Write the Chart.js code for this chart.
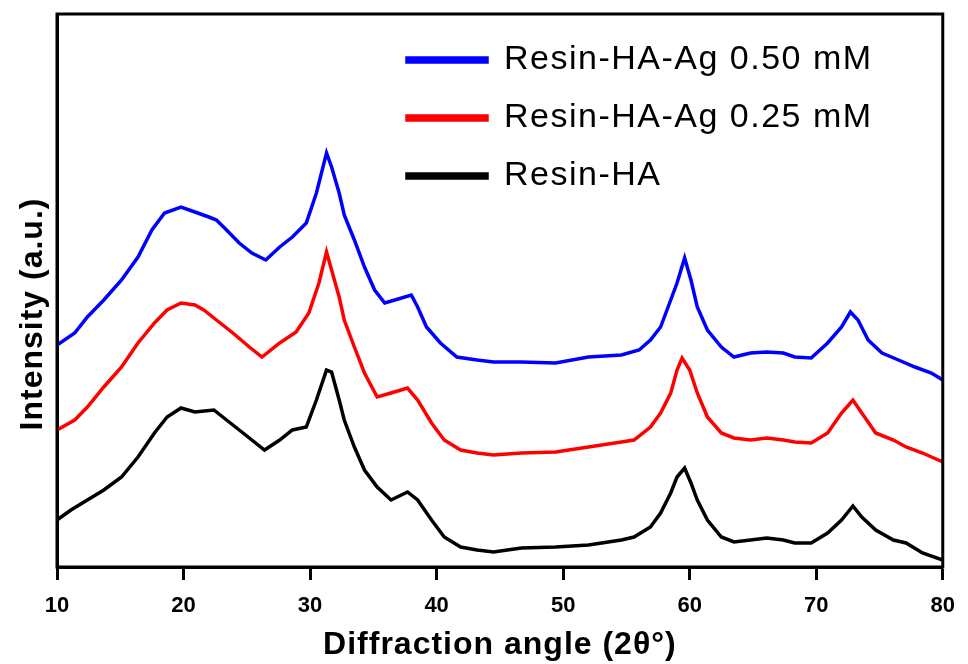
<!DOCTYPE html>
<html><head><meta charset="utf-8">
<script src="https://cdn.jsdelivr.net/npm/chart.js@4.4.1/dist/chart.umd.min.js"></script>
<style>html,body{margin:0;padding:0;background:#fff}</style>
</head><body>
<canvas id="c" width="968" height="664"></canvas>
<script>
// ---- data ----
const seriesLabels = ['Resin-HA-Ag 0.50 mM', 'Resin-HA-Ag 0.25 mM', 'Resin-HA'];
const xTickValues = [10, 20, 30, 40, 50, 60, 70, 80];
const xTitle = 'Diffraction angle (2θ°)';
const yTitle = 'Intensity (a.u.)';

const ag050Angle = [10,11.4,12.4,13.7,15.1,16.4,17.5,18.5,19.8,20.9,22.0,22.6,23.4,24.4,25.4,26.5,27.6,28.6,29.7,30.5,31.3,31.7,32.3,32.7,33.5,34.3,35.1,35.9,36.7,38.0,38.5,39.2,40.3,41.6,43.2,44.5,46.7,49.4,52.0,54.6,56.0,56.9,57.7,58.5,59.0,59.6,60.1,60.6,61.4,62.5,63.5,64.8,66.1,67.4,68.3,69.6,70.9,72.0,72.7,73.3,74.1,75.2,76.5,77.8,79.1,80.0];
const ag050Intensity = [222,234,250,267,287,310,337,354,360,355,350,347,337,324,314,307,320,330,344,374,414,400,374,352,327,300,277,264,267,272,260,240,224,210,207,205,205,204,210,212,217,227,240,267,284,309,287,260,237,220,210,214,215,214,210,209,224,240,255,247,227,214,207,200,194,187];

const ag025Angle = [10,11.4,12.4,13.7,15.1,16.4,17.7,18.7,19.8,20.9,21.6,22.6,23.9,25.2,26.2,27.6,28.9,29.9,30.7,31.3,31.7,32.3,32.7,33.5,34.3,35.3,36.4,37.7,38.5,39.6,40.6,41.9,43.2,44.5,46.7,49.4,52.0,54.6,55.6,56.9,57.7,58.5,59.0,59.4,60.0,60.6,61.4,62.5,63.5,64.8,66.1,67.4,68.3,69.6,70.9,72.0,72.9,73.6,74.7,76.1,77.1,78.4,80.0];
const ag025Intensity = [137,147,160,180,200,224,244,257,264,262,257,247,234,220,210,224,235,254,284,315,297,270,247,220,194,170,174,179,167,144,127,117,114,112,114,115,120,125,127,140,154,174,197,209,197,174,150,134,129,127,129,127,125,124,134,154,167,154,134,127,120,114,105];

const haAngle = [10,11.1,12.4,13.7,15.1,16.4,17.7,18.7,19.8,20.9,22.4,23.4,24.4,25.4,26.4,27.6,28.6,29.7,30.5,31.3,31.7,32.3,32.7,33.5,34.3,35.3,36.4,37.7,38.5,39.6,40.6,41.9,43.2,44.5,46.7,49.4,52.0,54.6,55.6,56.9,57.7,58.5,59.0,59.6,60.1,60.6,61.4,62.5,63.5,64.8,66.1,67.4,68.3,69.6,70.9,72.0,72.9,73.6,74.7,76.1,77.1,78.4,80.0];
const haIntensity = [47,57,67,77,90,110,134,150,159,155,157,147,137,127,117,127,137,140,167,197,195,167,147,120,97,80,67,75,67,47,30,20,17,15,19,20,22,27,30,40,54,74,90,99,84,67,47,30,25,27,29,27,24,24,34,47,61,50,37,27,24,14,7];

const seriesColors = ['#0000ff', '#ff0000', '#000000'];

// ---- build ----
const toPts = (xs, ys) => xs.map((x, i) => ({x: x, y: ys[i]}));
const FONT = "'Liberation Sans', Arial, Helvetica, sans-serif";

const datasets = [
  {label: seriesLabels[0], data: toPts(ag050Angle, ag050Intensity), borderColor: seriesColors[0], backgroundColor: seriesColors[0]},
  {label: seriesLabels[1], data: toPts(ag025Angle, ag025Intensity), borderColor: seriesColors[1], backgroundColor: seriesColors[1]},
  {label: seriesLabels[2], data: toPts(haAngle, haIntensity), borderColor: seriesColors[2], backgroundColor: seriesColors[2]}
].map(d => Object.assign(d, {borderWidth: 3.5, pointRadius: 0, tension: 0, fill: false}));

function withSpacing(obj, method, spacing) {
  if (!obj || obj['_wrapped_' + method]) return;
  const orig = obj[method];
  obj[method] = function () {
    const ctx = this.ctx;
    ctx.save();
    ctx.letterSpacing = spacing;
    const r = orig.apply(this, arguments);
    ctx.restore();
    return r;
  };
  obj['_wrapped_' + method] = true;
}

const framePlugin = {
  id: 'frame',
  afterLayout(chart) {
    const lg = chart.legend;
    if (lg) {
      lg.left = 383; lg.top = 19; lg.right = 945; lg.bottom = 560;
      lg.width = lg.right - lg.left; lg.height = lg.bottom - lg.top;
      withSpacing(lg, 'draw', '1.5px');
    }
    withSpacing(chart.scales.x, 'drawTitle', '1px');
  },
  afterDatasetsDraw(chart) {
    const {ctx, chartArea: a} = chart;
    ctx.save();
    ctx.strokeStyle = '#000';
    ctx.lineWidth = 3;
    ctx.strokeRect(a.left, a.top, a.right - a.left, a.bottom - a.top);
    ctx.restore();
  },
  afterDraw(chart) {
    const ctx = chart.ctx;
    ctx.save();
    ctx.translate(33, 314);
    ctx.rotate(-Math.PI / 2);
    ctx.font = 'bold 32px ' + FONT;
    ctx.letterSpacing = '1px';
    ctx.fillStyle = '#000';
    ctx.textAlign = 'center';
    ctx.textBaseline = 'middle';
    ctx.fillText(yTitle, 0, 0);
    ctx.restore();
  }
};

new Chart(document.getElementById('c'), {
  type: 'line',
  data: {datasets},
  options: {
    responsive: false,
    animation: false,
    devicePixelRatio: 1,
    layout: {padding: {top: 14, right: 23, left: 0, bottom: 0}},
    plugins: {
      legend: {
        position: 'chartArea',
        align: 'start',
        labels: {
          boxWidth: 80, boxHeight: 4, padding: 24,
          color: '#000',
          font: {family: FONT, size: 34}
        }
      },
      tooltip: {enabled: false}
    },
    scales: {
      x: {
        type: 'linear', min: 10, max: 80,
        afterFit(s) { s.height = 97; },
        afterBuildTicks(s) { s.ticks = xTickValues.map(v => ({value: v})); },
        ticks: {color: '#000', padding: 13, font: {family: FONT, size: 22, weight: 'bold'}},
        grid: {display: true, drawOnChartArea: false, drawTicks: true, tickLength: 13, tickWidth: 3, tickColor: '#000', color: '#000'},
        border: {display: true, color: '#000', width: 3},
        title: {display: true, text: xTitle, color: '#000', padding: {top: 0, bottom: 0}, font: {family: FONT, size: 32, weight: 'bold'}}
      },
      y: {
        type: 'linear', min: 0, max: 553,
        afterFit(s) { s.width = 57; },
        ticks: {display: false},
        grid: {display: false},
        border: {display: true, color: '#000', width: 3},
        title: {display: false, text: yTitle}
      }
    }
  },
  plugins: [framePlugin]
});
</script>
</body></html>
